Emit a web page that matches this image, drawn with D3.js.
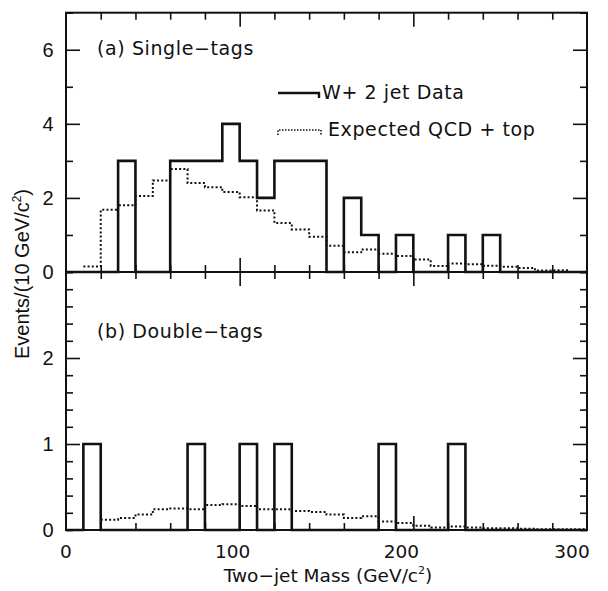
<!DOCTYPE html>
<html lang="en">
<head>
    <meta charset="UTF-8">
    <title>Two-jet Mass</title>
    <script src="https://d3js.org/d3.v7.min.js"></script>
    <style>
        body { margin: 0; background: #fff; }
        svg { display: block; }
        .lbl { font-family: "DejaVu Sans", sans-serif; font-size: 19px; letter-spacing: 0.6px; fill: #111; }
        .tick-lbl, .title { font-family: "DejaVu Sans", sans-serif; font-size: 18.5px; fill: #111; }
        .num { font-family: "Liberation Sans", Arial, sans-serif; font-size: 20px; fill: #111; }
        .axis path { display: none; }
        .axis line { stroke: #111; stroke-width: 1.6; }
    </style>
</head>
<body>
<div id="chart"></div>
<script>
// bin edges in GeV/c^2 (10 GeV bins, 0..300)
const binEdges = d3.range(0, 310, 10);

// (a) single-tags, W + 2 jet data (events per bin)
const singleData = [0, 0, 0, 3, 0, 0, 3, 3, 3, 4, 3, 2, 3, 3, 3, 0, 2, 1, 0, 1,
                    0, 0, 1, 0, 1, 0, 0, 0, 0, 0];
// (a) expected QCD + top, null = not drawn
const singleExp = [null, 0.15, 1.68, 1.8, 2.05, 2.47, 2.78, 2.4, 2.29, 2.16,
                   2.02, 1.66, 1.32, 1.15, 0.95, 0.71, 0.53, 0.61, 0.49, 0.43,
                   0.34, 0.16, 0.23, 0.21, 0.17, 0.14, 0.11, 0.04, 0.05, null];

// (b) double-tags data
const doubleData = [0, 1, 0, 0, 0, 0, 0, 1, 0, 0, 1, 0, 1, 0, 0, 0, 0, 0, 1, 0,
                    0, 0, 1, 0, 0, 0, 0, 0, 0, 0];
// (b) expected QCD + top
const doubleExp = [null, null, 0.12, 0.14, 0.18, 0.24, 0.25, 0.24, 0.29, 0.30,
                   0.28, 0.24, 0.24, 0.22, 0.21, 0.18, 0.14, 0.16, 0.10, 0.08,
                   0.05, 0.03, 0.04, 0.03, 0.02, 0.02, 0.015, 0.01, 0.01, 0.01];

const xTicksMajor = [100, 200];
const xLabels = [0, 100, 200, 300];
const xLabelShift = [0, -7, -12, -15];   // labels sit a little left of their ticks
const topLabels = [0, 2, 4, 6];
const botLabels = [0, 1, 2];

const W = 608, H = 591;
const svg = d3.select("#chart").append("svg").attr("width", W).attr("height", H);

const x = d3.scaleLinear().domain([0, 300]).range([66, 587]);
const yTop = d3.scaleLinear().domain([0, 7]).range([272, 12.7]);
const yBot = d3.scaleLinear().domain([0, 3]).range([530, 272]);

// step outline from a list of bin values
function stepPoints(vals) {
    const segs = [];
    let cur = [];
    vals.forEach((v, i) => {
        if (v === null) {
            if (cur.length) segs.push(cur);
            cur = [];
            return;
        }
        cur.push([binEdges[i], v]);
        cur.push([binEdges[i + 1], v]);
    });
    if (cur.length) segs.push(cur);
    return segs;
}

function drawPanel(y, data, expd, minorY, majorY) {
    const g = svg.append("g");
    const line = d3.line().x(d => x(d[0])).y(d => y(d[1]));

    // expected, dotted
    stepPoints(expd).forEach(seg => {
        g.append("path")
            .attr("d", line(seg))
            .attr("fill", "none")
            .attr("stroke", "#111")
            .attr("stroke-width", 2)
            .attr("stroke-dasharray", "2,2.2");
    });

    // data, solid outline starting and ending at zero
    const pts = [[0, 0]].concat(stepPoints(data)[0]).concat([[300, 0]]);
    g.append("path")
        .attr("d", line(pts))
        .attr("fill", "none")
        .attr("stroke", "#111")
        .attr("stroke-width", 2.6)
        .attr("stroke-linejoin", "miter");

    const x0 = x.range()[0], x1 = x.range()[1];
    const [yb, yt] = y.range();

    // y ticks, both sides, pointing in
    const minor = minorY.filter(v => !majorY.includes(v));
    g.append("g").attr("class", "axis").attr("transform", `translate(${x0},0)`)
        .call(d3.axisRight(y).tickValues(minor).tickSize(7).tickFormat(""));
    g.append("g").attr("class", "axis").attr("transform", `translate(${x0},0)`)
        .call(d3.axisRight(y).tickValues(majorY).tickSize(14).tickFormat(""));
    g.append("g").attr("class", "axis").attr("transform", `translate(${x1},0)`)
        .call(d3.axisLeft(y).tickValues(minor).tickSize(7).tickFormat(""));
    g.append("g").attr("class", "axis").attr("transform", `translate(${x1},0)`)
        .call(d3.axisLeft(y).tickValues(majorY).tickSize(14).tickFormat(""));

    // x ticks on bottom (up) and top (down)
    const xMinor = d3.range(20, 300, 20).filter(v => !xTicksMajor.includes(v));
    g.append("g").attr("class", "axis").attr("transform", `translate(0,${yb})`)
        .call(d3.axisTop(x).tickValues(xMinor).tickSize(7).tickFormat(""));
    g.append("g").attr("class", "axis").attr("transform", `translate(0,${yb})`)
        .call(d3.axisTop(x).tickValues(xTicksMajor).tickSize(14).tickFormat(""));
    g.append("g").attr("class", "axis").attr("transform", `translate(0,${yt})`)
        .call(d3.axisBottom(x).tickValues(xMinor).tickSize(7).tickFormat(""));
    g.append("g").attr("class", "axis").attr("transform", `translate(0,${yt})`)
        .call(d3.axisBottom(x).tickValues(xTicksMajor).tickSize(14).tickFormat(""));

    // frame
    g.append("rect")
        .attr("x", x0).attr("y", yt)
        .attr("width", x1 - x0).attr("height", yb - yt)
        .attr("fill", "none").attr("stroke", "#111").attr("stroke-width", 2);
}

drawPanel(yTop, singleData, singleExp, d3.range(0, 8, 1), [2, 4, 6]);
drawPanel(yBot, doubleData, doubleExp, d3.range(0, 3.01, 0.2).map(v => +v.toFixed(1)), [1, 2]);

// y tick labels
svg.selectAll(".ylt").data(topLabels).enter().append("text")
    .attr("class", "num").attr("text-anchor", "middle")
    .attr("x", 48).attr("y", d => yTop(d) + 7).text(d => d);
svg.selectAll(".ylb").data(botLabels).enter().append("text")
    .attr("class", "num").attr("text-anchor", "middle")
    .attr("x", 48).attr("y", d => yBot(d) + 7).text(d => d);

// x tick labels
svg.selectAll(".xl").data(xLabels).enter().append("text")
    .attr("class", "tick-lbl").attr("text-anchor", "middle")
    .attr("x", (d, i) => x(d) + xLabelShift[i]).attr("y", 558).text(d => d);

// axis titles
const xt = svg.append("text").attr("class", "title").attr("text-anchor", "middle")
    .attr("x", 328).attr("y", 582);
xt.append("tspan").text("Two\u2212jet Mass (GeV/c");
xt.append("tspan").attr("font-size", 11).attr("dy", -8).text("2");
xt.append("tspan").attr("dy", 8).text(")");

const yt = svg.append("text").attr("class", "num").attr("text-anchor", "middle")
    .attr("transform", "translate(29,274) rotate(-90)");
yt.append("tspan").text("Events/(10 GeV/c");
yt.append("tspan").attr("font-size", 12).attr("dy", -8).text("2");
yt.append("tspan").attr("dy", 8).text(")");

// panel captions
svg.append("text").attr("class", "lbl").attr("x", 97).attr("y", 55).text("(a) Single\u2212tags");
svg.append("text").attr("class", "lbl").attr("x", 97).attr("y", 338).text("(b) Double\u2212tags");

// legend
svg.append("path").attr("d", "M278,93H319V98")
    .attr("fill", "none").attr("stroke", "#111").attr("stroke-width", 2.4);
svg.append("path").attr("d", "M278,135V130H321V135")
    .attr("fill", "none").attr("stroke", "#111").attr("stroke-width", 1.6)
    .attr("stroke-dasharray", "1.5,1.5");
svg.append("text").attr("class", "lbl").attr("x", 322).attr("y", 99).text("W+ 2 jet Data");
svg.append("text").attr("class", "lbl").attr("x", 328).attr("y", 136).text("Expected QCD + top");
</script>
</body>
</html>
